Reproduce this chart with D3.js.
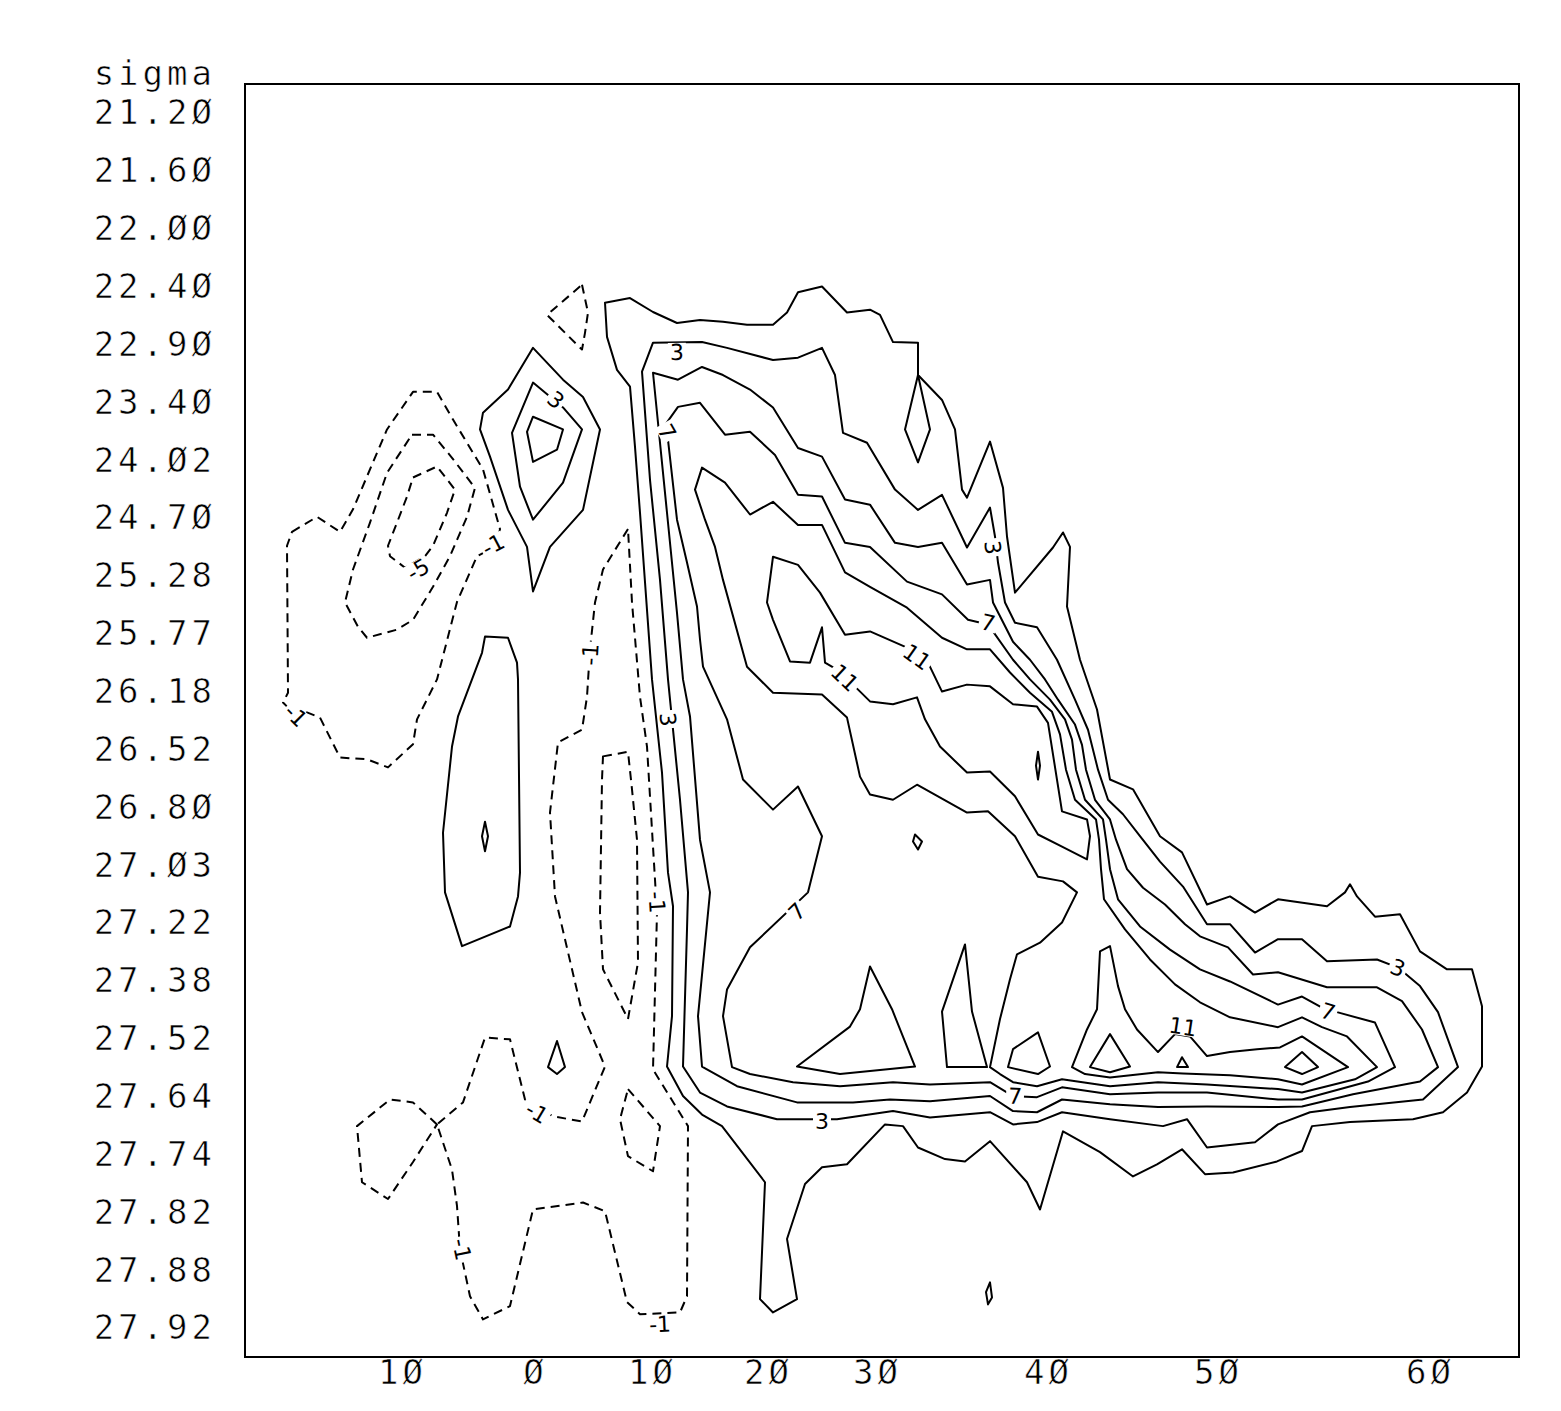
<!DOCTYPE html>
<html><head><meta charset="utf-8">
<script src="https://cdn.jsdelivr.net/npm/d3@7"></script>
<style>body{margin:0;background:#fff}</style>
</head><body>
<svg id="chart" width="1561" height="1411"></svg>
<script>
// ---------- axis data ----------
const sigmaLabels = ["21.20","21.60","22.00","22.40","22.90","23.40","24.02","24.70","25.28","25.77","26.18","26.52","26.80","27.03","27.22","27.38","27.52","27.64","27.74","27.82","27.88","27.92"];
// distance along section (km) where latitude labels sit
const xTickKm = [1570, 2900, 4070, 5230, 6320, 8030, 9730, 11850];
const xTickText = ["10","0","10","20","30","40","50","60"];

// ---------- contour polylines: [distance km, sigma-level index] ----------
const D1 = [[470,7.24],[720,6.98],[950,7.24],[1080,6.85],[1420,5.47],[1680,4.82],[1920,4.82],[2080,5.30],[2380,6.16],[2550,7.19],[2520,7.48],[2320,7.66],[2120,8.45],[1920,9.79],[1720,10.48],[1680,10.91],[1430,11.31],[1220,11.17],[950,11.14],[750,10.45],[620,10.36],[520,10.43],[380,10.19],[430,10.02],[420,7.48]];
const D2 = [[1670,5.56],[1880,5.56],[2070,5.96],[2300,6.48],[2220,6.98],[2050,7.66],[1880,8.19],[1680,8.76],[1520,8.93],[1220,9.07],[1130,8.88],[1000,8.46],[1080,7.89],[1250,7.08],[1420,6.22]];
const D3 = [[1680,6.30],[1920,6.11],[2100,6.51],[2020,6.91],[1880,7.48],[1800,7.66],[1600,7.86],[1450,7.66],[1430,7.48],[1520,7.08],[1620,6.63]];
const D4 = [[3370,2.97],[3430,3.45],[3400,3.80],[3370,4.09],[3020,3.49]];
const D5 = [[3830,7.19],[3580,7.89],[3500,8.46],[3450,9.27],[3420,10.09],[3370,10.66],[3130,10.88],[3050,12.09],[3100,13.54],[3270,14.80],[3370,15.54],[3600,16.48],[3370,17.43],[3080,17.34],[2800,17.05],[2650,16.01],[2400,15.98],[2180,17.10],[1920,17.48],[2070,18.26],[2120,18.89],[2150,19.64],[2250,20.45],[2380,20.85],[2650,20.62],[2880,18.95],[3380,18.83],[3600,18.98],[3820,20.55],[3950,20.76],[4350,20.73],[4420,20.45],[4430,17.51],[4080,16.53],[4120,13.82],[4080,12.68],[4020,10.95],[3950,10.09],[3870,8.46]];
const D6 = [[1920,17.48],[1680,17.10],[1450,17.05],[1120,17.51],[1170,18.48],[1430,18.77],[1680,18.13]];
const D7 = [[3580,11.12],[3830,11.04],[3870,11.69],[3920,12.56],[3930,14.68],[3830,15.66],[3580,14.80],[3550,13.82],[3570,11.52]];
const D8 = [[3830,16.87],[4150,17.51],[4080,18.29],[3830,18.03],[3750,17.39]];

const S1 = [[2880,4.06],[3180,4.61],[3380,4.91],[3550,5.47],[3380,6.86],[3050,7.50],[2880,8.27],[2820,7.50],[2630,6.86],[2450,5.94],[2350,5.47],[2380,5.18],[2630,4.78]];
const S2 = [[2880,4.66],[3180,5.09],[3370,5.47],[3180,6.39],[2880,7.03],[2750,6.46],[2670,5.53]];
const S3 = [[2880,5.25],[3180,5.47],[3120,5.82],[2880,6.03],[2820,5.51]];
const S4 = [[2400,9.05],[2630,9.07],[2720,9.50],[2730,9.79],[2750,13.13],[2730,13.54],[2650,14.06],[2170,14.40],[2000,13.47],[1980,12.44],[2070,10.95],[2130,10.43],[2270,9.79],[2370,9.33]];
const S4b = [[2400,12.25],[2430,12.50],[2400,12.76],[2370,12.50]];
const S5 = [[3120,16.04],[3200,16.49],[3120,16.61],[3030,16.49]];

const L1 = [[3600,3.28],[3850,3.20],[4080,3.44],[4320,3.63],[4550,3.58],[4780,3.61],[5020,3.66],[5280,3.66],[5420,3.45],[5530,3.10],[5770,3.00],[6020,3.45],[6250,3.40],[6350,3.49],[6480,3.96],[6730,3.97],[6730,4.53],[6970,4.96],[7100,5.47],[7170,6.51],[7220,6.65],[7450,5.68],[7580,6.48],[7620,7.32],[7700,8.29],[8080,7.51],[8180,7.25],[8250,7.50],[8220,8.53],[8350,9.45],[8520,10.31],[8650,11.52],[8880,11.69],[9150,12.50],[9370,12.78],[9620,13.68],[9850,13.54],[10100,13.82],[10330,13.59],[10820,13.71],[11000,13.47],[11050,13.33],[11120,13.54],[11300,13.89],[11550,13.85],[11750,14.49],[12020,14.80],[12270,14.80],[12370,15.44],[12370,16.48],[12220,16.93],[11980,17.27],[11680,17.39],[11050,17.44],[10670,17.51],[10570,17.94],[10320,18.12],[9880,18.31],[9600,18.34],[9370,17.91],[9120,18.17],[8880,18.38],[8550,17.96],[8180,17.60],[7950,18.95],[7820,18.48],[7450,17.77],[7200,18.12],[7000,18.08],[6730,17.88],[6580,17.51],[6400,17.48],[6020,18.17],[5770,18.22],[5600,18.51],[5420,19.46],[5520,20.50],[5280,20.73],[5150,20.50],[5200,18.48],[4770,17.51],[4570,17.31],[4380,16.99],[4220,16.48],[4270,15.61],[4280,13.71],[4230,13.13],[4170,11.40],[4070,9.79],[3950,6.91],[3900,5.77],[3850,4.73],[3720,4.44],[3620,3.87]];
const L1diamond = [[6730,4.53],[6850,5.47],[6730,6.04],[6600,5.47]];
const L1mark = [[7450,20.21],[7470,20.47],[7430,20.59],[7410,20.38]];

const L3 = [[4230,9.79],[4150,8.07],[4050,6.34],[3970,4.47],[4080,3.97],[4570,3.96],[4820,4.06],[5280,4.27],[5530,4.23],[5770,4.06],[5900,4.53],[5980,5.53],[6220,5.70],[6500,6.51],[6730,6.86],[6970,6.60],[7220,7.51],[7450,6.82],[7500,7.32],[7530,7.77],[7600,8.46],[7700,8.81],[7920,8.89],[8120,9.45],[8300,10.14],[8430,10.66],[8530,11.35],[8630,11.87],[8780,12.12],[8950,12.50],[9150,12.94],[9380,13.37],[9620,14.02],[9850,14.02],[10100,14.51],[10330,14.28],[10570,14.28],[10820,14.66],[11320,14.63],[11530,14.77],[11750,15.09],[11930,15.54],[12130,16.49],[11780,17.05],[11050,17.18],[10650,17.27],[10330,17.48],[10100,17.79],[9620,17.88],[9420,17.39],[9180,17.51],[8650,17.39],[8170,17.27],[7920,17.44],[7680,17.48],[7450,17.27],[6850,17.36],[6480,17.25],[5920,17.39],[5320,17.39],[4820,17.17],[4550,16.93],[4380,16.48],[4420,14.11],[4430,13.47],[4350,11.87],[4270,10.48]];

const L5 = [[4380,9.79],[4320,8.64],[4220,6.91],[4080,4.49],[4330,4.61],[4570,4.39],[4780,4.53],[5050,4.78],[5280,5.09],[5530,5.79],[5770,5.94],[6000,6.68],[6250,6.77],[6500,7.43],[6730,7.50],[6970,7.43],[7220,8.15],[7450,8.07],[7480,8.46],[7680,9.14],[7850,9.45],[8000,9.79],[8130,10.14],[8300,10.57],[8370,10.92],[8410,11.35],[8500,11.87],[8650,12.21],[8710,12.56],[8820,13.07],[8980,13.39],[9200,13.68],[9400,14.02],[9550,14.23],[9830,14.42],[10080,14.89],[10330,14.85],[10820,15.11],[11320,15.11],[11570,15.35],[11770,15.84],[11930,16.49],[11750,16.74],[11080,16.96],[10570,17.17],[10330,17.18],[9620,17.17],[9130,17.18],[8650,17.13],[8170,17.05],[7920,17.27],[7680,17.25],[7450,16.99],[6850,17.08],[6450,17.05],[6080,17.10],[5520,17.10],[4920,16.82],[4570,16.48],[4530,15.61],[4650,13.47],[4550,12.56],[4450,10.43]];

const L7 = [[4330,5.08],[4550,5.01],[4800,5.56],[5050,5.51],[5300,5.91],[5530,6.60],[5770,6.63],[6000,7.43],[6250,7.50],[6620,8.10],[6970,8.32],[7230,8.76],[7430,8.84],[7680,9.45],[7850,9.79],[8050,10.14],[8200,10.48],[8270,10.83],[8310,11.35],[8400,11.87],[8580,12.21],[8610,12.56],[8650,13.07],[8730,13.59],[8950,14.06],[9250,14.46],[9550,14.80],[9850,15.01],[10330,15.41],[10570,15.27],[10770,15.46],[10920,15.54],[11300,15.72],[11500,16.49],[11230,16.74],[10570,17.05],[10330,17.05],[9620,16.93],[9130,16.93],[8650,16.96],[8170,16.84],[7920,17.01],[7680,16.99],[7450,16.75],[6850,16.79],[6480,16.75],[5950,16.82],[5480,16.75],[5050,16.61],[4870,16.49],[4780,15.61],[4820,15.15],[5050,14.42],[5630,13.47],[5770,12.50],[5530,11.64],[5280,12.04],[4980,11.52],[4820,10.48],[4580,9.57],[4550,9.10],[4520,8.53],[4420,7.77],[4320,7.03],[4230,5.65],[4170,5.47]];

const L9 = [[4570,6.13],[4800,6.39],[5050,6.94],[5280,6.72],[5530,7.12],[5770,7.12],[6000,7.94],[6250,8.19],[6620,8.55],[6970,9.07],[7220,9.27],[7450,9.27],[7650,9.67],[7850,10.02],[8070,10.35],[8150,10.74],[8210,11.35],[8300,11.87],[8510,12.21],[8540,12.56],[8560,13.07],[8590,13.59],[8800,14.11],[9050,14.63],[9300,15.06],[9550,15.37],[9850,15.63],[10330,15.80],[10570,15.63],[10770,15.80],[11020,15.96],[11320,16.49],[11100,16.70],[10570,16.93],[10330,16.87],[9620,16.79],[9130,16.75],[8650,16.82],[8170,16.70],[7920,16.82],[7680,16.75],[7550,16.61],[7450,16.49],[7550,15.66],[7650,14.97],[7720,14.54],[7950,14.34],[8170,13.99],[8320,13.47],[8180,13.28],[7930,13.20],[7700,12.50],[7430,12.07],[7220,12.09],[6720,11.61],[6480,11.87],[6250,11.78],[6150,11.47],[6020,10.45],[5770,10.05],[5280,10.02],[5020,9.57],[4780,8.07],[4700,7.50],[4600,7.03],[4500,6.51]];
const L9tri = [[5520,16.48],[6050,15.79],[6150,15.49],[6250,14.75],[6470,15.49],[6700,16.48],[5950,16.61]];
const L9spike = [[6970,15.53],[7200,14.37],[7270,15.53],[7420,16.49],[7020,16.49]];

const L11a = [[5280,7.67],[5530,7.81],[5750,8.29],[6000,9.02],[6250,8.96],[6620,9.24],[6830,9.50],[6970,10.00],[7220,9.88],[7450,9.91],[7680,10.22],[7920,10.26],[8030,10.54],[8170,12.07],[8420,12.21],[8450,12.50],[8420,12.90],[8170,12.68],[7930,12.47],[7700,11.81],[7450,11.38],[7220,11.40],[6950,10.95],[6800,10.48],[6720,10.10],[6480,10.22],[6250,10.17],[6080,9.88],[5920,9.62],[5800,9.50],[5770,8.89],[5650,9.50],[5450,9.48],[5280,8.76],[5220,8.46]];
const L11b = [[8270,16.49],[8420,15.84],[8520,15.49],[8550,14.49],[8650,14.40],[8730,15.09],[8800,15.49],[8920,15.84],[9130,16.23],[9300,15.92],[9450,15.96],[9620,16.30],[9850,16.23],[10120,16.18],[10350,16.15],[10570,15.96],[11030,16.49],[10570,16.79],[10330,16.70],[9850,16.63],[9380,16.60],[9130,16.58],[8650,16.67],[8400,16.61]];
const L11c = [[7680,16.18],[7930,15.89],[8050,16.48],[7930,16.61],[7630,16.49]];
const L11d = [[6700,12.47],[6770,12.59],[6730,12.73],[6680,12.59]];
const L13a = [[8450,16.49],[8650,15.92],[8850,16.48],[8650,16.58]];
const L13b = [[9370,16.32],[9430,16.49],[9320,16.49]];
const L13c = [[10400,16.49],[10570,16.23],[10730,16.49],[10570,16.61]];
const L13d = [[7930,11.04],[7950,11.28],[7930,11.52],[7910,11.28]];

const contours = [
  {key:"D1",level:-1,pts:D1},{key:"D2",level:-3,pts:D2},{key:"D3",level:-5,pts:D3},
  {key:"D4",level:-1,pts:D4},{key:"D5",level:-1,pts:D5},{key:"D6",level:-1,pts:D6},
  {key:"D7",level:-1,pts:D7},{key:"D8",level:-1,pts:D8},
  {key:"S1",level:1,pts:S1},{key:"S2",level:3,pts:S2},{key:"S3",level:5,pts:S3},
  {key:"S4",level:1,pts:S4},{key:"S4b",level:3,pts:S4b},{key:"S5",level:1,pts:S5},
  {key:"L1",level:1,pts:L1},{key:"L1diamond",level:1,pts:L1diamond},{key:"L1mark",level:1,pts:L1mark},
  {key:"L3",level:3,pts:L3},{key:"L5",level:5,pts:L5},{key:"L7",level:7,pts:L7},
  {key:"L9",level:9,pts:L9},{key:"L9tri",level:9,pts:L9tri},{key:"L9spike",level:9,pts:L9spike},
  {key:"L11a",level:11,pts:L11a},{key:"L11b",level:11,pts:L11b},{key:"L11c",level:11,pts:L11c},
  {key:"L11d",level:11,pts:L11d},
  {key:"L13a",level:13,pts:L13a},{key:"L13b",level:13,pts:L13b},{key:"L13c",level:13,pts:L13c},{key:"L13d",level:13,pts:L13d}
];

// contour labels: [text, km, index, contour]
const labels = [
  ["3",4320,4.13,"L3"],["3",3110,4.96,"S2"],["7",4220,5.51,"L7"],["-5",1730,7.89,"D3"],
  ["-1",2480,7.46,"D1"],["3",7480,7.51,"L3"],["7",7430,8.81,"L7"],["11",6720,9.40,"L11a"],
  ["11",6000,9.76,"L11a"],["-1",3450,9.36,"D5"],["-1",510,10.41,"D1"],["3",4230,10.48,"L3"],
  ["-1",4120,13.64,"D5"],["7",5520,13.80,"L7"],["3",11530,14.77,"L3"],["7",10830,15.53,"L7"],
  ["11",9380,15.79,"L11b"],["-1",2920,17.27,"D5"],["7",7700,16.99,"L7"],["3",5770,17.43,"L3"],
  ["-1",2170,19.64,"D5"],["-1",4150,20.93,"D5"]
];

// plotter-style display of zero
const plotterText = s => s.replace(/0/g, "\u00D8");

// ---------- drawing ----------
const svg = d3.select("#chart");
svg.append("rect").attr("width",1561).attr("height",1411).attr("fill","#fff");
const x = d3.scaleLinear().domain([0,12740]).range([245,1519]);
const y = d3.scaleLinear().domain([-0.5,21.5]).range([84,1357]);

const line = d3.line().x(d=>x(d[0])).y(d=>y(d[1])).curve(d3.curveLinearClosed);
const gC = svg.append("g");
gC.selectAll("path").data(contours).join("path")
  .attr("d",d=>line(d.pts))
  .attr("fill","none").attr("stroke","#000").attr("stroke-width",2)
  .attr("stroke-linejoin","round")
  .attr("stroke-dasharray",d=>d.level<0?"9,6":null);

// labels with white gaps
const byKey = Object.fromEntries(contours.map(c=>[c.key,c]));
function segAngle(c, px, py){
  let best=1e9, ang=0; const p=c.pts;
  for(let i=0;i<p.length;i++){
    const a=p[i], b=p[(i+1)%p.length];
    const ax=x(a[0]), ay=y(a[1]), bx=x(b[0]), by=y(b[1]);
    const dx=bx-ax, dy=by-ay, L2=dx*dx+dy*dy||1;
    let t=((px-ax)*dx+(py-ay)*dy)/L2; t=Math.max(0,Math.min(1,t));
    const qx=ax+t*dx, qy=ay+t*dy, d=(px-qx)**2+(py-qy)**2;
    if(d<best){best=d; ang=Math.atan2(dy,dx)*180/Math.PI;}
  }
  if(ang>90) ang-=180; if(ang<=-90) ang+=180;
  return ang;
}
const gL = svg.append("g");
labels.forEach(([t,kx,ky,key])=>{
  const px=x(kx), py=y(ky), ang=segAngle(byKey[key],px,py);
  const g=gL.append("g").attr("transform",`translate(${px},${py}) rotate(${ang})`);
  const rect=g.append("rect").attr("fill","#fff");
  const tx=g.append("text").attr("text-anchor","middle").attr("dy","0.36em")
    .attr("font-family","'DejaVu Sans', sans-serif").attr("font-size",22).text(t);
  const bb=tx.node().getBBox();
  rect.attr("x",bb.x-2).attr("y",-9).attr("width",bb.width+4).attr("height",18);
});

// frame
svg.append("rect").attr("x",245).attr("y",84).attr("width",1274).attr("height",1273)
  .attr("fill","none").attr("stroke","#000").attr("stroke-width",2);

// axes
const fontAx = "'DejaVu Sans Mono', monospace";
function styleAxisText(sel){
  sel.attr("font-family",fontAx).attr("font-size",34).attr("letter-spacing",4)
     .attr("fill","#000").attr("stroke","#fff").attr("stroke-width",0.6);
}
const yAxis = d3.axisLeft(y).tickValues(d3.range(sigmaLabels.length))
  .tickFormat(i=>plotterText(sigmaLabels[i])).tickSize(0).tickPadding(29);
const gy = svg.append("g").attr("transform","translate(245,0)").call(yAxis);
gy.select(".domain").remove();
styleAxisText(gy.selectAll("text"));

const xAxis = d3.axisBottom(x).tickValues(xTickKm)
  .tickFormat((d,i)=>plotterText(xTickText[i])).tickSize(0).tickPadding(3);
const gx = svg.append("g").attr("transform","translate(0,1357)").call(xAxis);
gx.select(".domain").remove();
styleAxisText(gx.selectAll("text"));

styleAxisText(svg.append("text").attr("x",216).attr("y",85).attr("text-anchor","end").text("sigma"));
</script>
</body></html>
